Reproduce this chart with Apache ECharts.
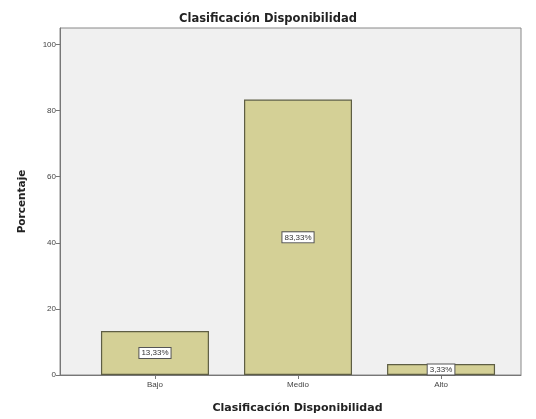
<!DOCTYPE html>
<html>
<head>
<meta charset="utf-8">
<script src="https://cdn.jsdelivr.net/npm/echarts@6/dist/echarts.min.js"></script>
<style>html,body{margin:0;padding:0;background:#fff}#c{width:536px;height:419px}</style>
</head>
<body>
<div id="c"></div>
<script>
const categories = ['Bajo', 'Medio', 'Alto'];
const values = [13.33, 83.33, 3.33];
const valueLabels = ['13,33%', '83,33%', '3,33%'];
const yTicks = [0, 20, 40, 60, 80, 100];
const titleText = 'Clasificación Disponibilidad';
const xName = 'Clasificación Disponibilidad';
const yName = 'Porcentaje';

const chart = echarts.init(document.getElementById('c'), null, {renderer: 'canvas'});
const catIdx = categories.map((c, i) => i);
chart.setOption({
  animation: false,
  backgroundColor: '#ffffff',
  title: {
    text: titleText, left: 'center', top: 8,
    textStyle: {fontFamily: 'DejaVu Sans', fontWeight: 'bold', fontSize: 11.5, color: '#222'}
  },
  grid: {left: 60, right: 15, top: 28, bottom: 42, show: true, backgroundColor: '#f0f0f0', borderColor: '#888', borderWidth: 1},
  xAxis: {
    type: 'value', min: -0.664, max: 2.559,
    name: xName, nameLocation: 'middle', nameGap: 28,
    nameTextStyle: {fontFamily: 'DejaVu Sans', fontWeight: 'bold', fontSize: 11, color: '#222', padding: [0, 0, 0, 14]},
    splitLine: {show: false},
    axisLine: {show: true, onZero: false, lineStyle: {color: '#777'}},
    axisTick: {show: true, customValues: catIdx, length: 4, lineStyle: {color: '#777'}},
    axisLabel: {customValues: catIdx, formatter: v => categories[Math.round(v)], fontFamily: 'Liberation Sans', fontSize: 8, color: '#444', margin: 6}
  },
  yAxis: {
    type: 'value', min: 0, max: 105, interval: 20,
    name: yName, nameLocation: 'middle', nameGap: 32, nameRotate: 90,
    nameTextStyle: {fontFamily: 'DejaVu Sans', fontWeight: 'bold', fontSize: 10.5, color: '#222'},
    splitLine: {show: false},
    axisLine: {show: true, onZero: false, lineStyle: {color: '#777'}},
    axisTick: {show: true, customValues: yTicks, length: 4, lineStyle: {color: '#777'}},
    axisLabel: {customValues: yTicks, fontFamily: 'Liberation Sans', fontSize: 8, color: '#444', margin: 4}
  },
  series: [{
    type: 'bar',
    barWidth: 108,
    data: values.map((v, i) => [i, v]),
    itemStyle: {color: '#d4d096', borderColor: '#5e5e44', borderWidth: 1.2},
    label: {
      show: true, position: 'inside',
      formatter: p => valueLabels[p.dataIndex],
      fontFamily: 'Liberation Sans', fontSize: 8, color: '#333',
      backgroundColor: '#ffffff', borderColor: '#555', borderWidth: 1, padding: [1, 2]
    }
  }]
});
</script>
</body>
</html>
